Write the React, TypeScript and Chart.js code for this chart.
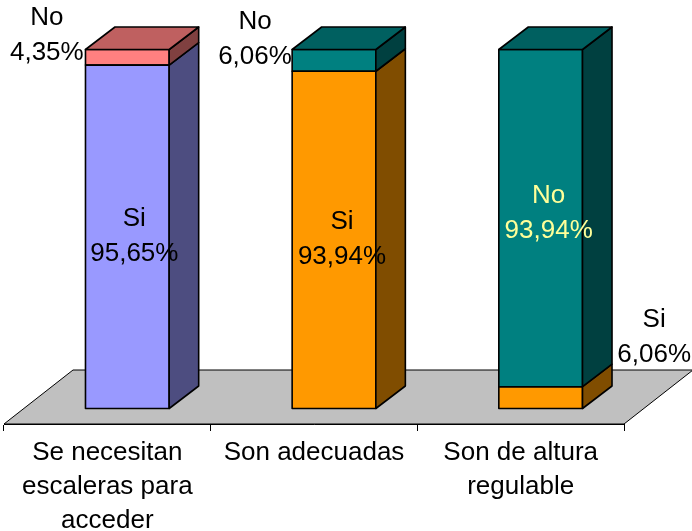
import React, { useEffect, useRef } from "react";
import { Chart, registerables } from "chart.js";

Chart.register(...registerables);

const categories = [
  ["Se necesitan", "escaleras para", "acceder"],
  ["Son adecuadas"],
  ["Son de altura", "regulable"],
];
const siValues = [95.65, 93.94, 6.06];
const noValues = [4.35, 6.06, 93.94];

const siFront = ["#9999FF", "#FF9900", "#FF9900"];
const siSide = ["#4D4D80", "#804D00", "#804D00"];
const noFront = ["#FF8080", "#008080", "#008080"];
const noSide = ["#804040", "#004040", "#004040"];
const noTop = ["#BF6060", "#006060", "#006060"];

const FONT = '"Liberation Sans", Arial, sans-serif';
const FONT_SIZE = 26;
const EDGE = 1.6;

// Oblique projection of the floor and of the bar bodies.
const FLOOR_DX = 69;
const FLOOR_DY = 54;
const BAR_SHIFT_X = 20;
const BAR_DX = 29.5;
const BAR_DY = 22.5;

// Label placement relative to the centre of each bar segment's front face.
const siLabelOffsets = [
  [7, 0],
  [8, 0],
  [113.5, -59.5],
];
const noLabelOffsets = [
  [-80.5, -21.5],
  [-79, -21],
  [8, -4.5],
];

const toPercent = (v: number) => v.toFixed(2).replace(".", ",") + "%";

function face(ctx: CanvasRenderingContext2D, pts: number[][], fill: string | null, lw = EDGE) {
  ctx.beginPath();
  pts.forEach(([x, y], i) => (i ? ctx.lineTo(x, y) : ctx.moveTo(x, y)));
  ctx.closePath();
  if (fill) {
    ctx.fillStyle = fill;
    ctx.fill();
  }
  ctx.lineWidth = lw;
  ctx.strokeStyle = "#000";
  ctx.lineJoin = "round";
  ctx.stroke();
}

const bars3d = {
  id: "bars3d",
  beforeDatasetsDraw(chart: any) {
    const { ctx, chartArea } = chart;
    const { left, right, bottom } = chartArea;
    face(
      ctx,
      [
        [left, bottom],
        [right, bottom],
        [right + FLOOR_DX, bottom - FLOOR_DY],
        [left + FLOOR_DX, bottom - FLOOR_DY],
      ],
      "#C0C0C0",
      1
    );
    ctx.save();
    ctx.translate(BAR_SHIFT_X, 0);
  },
  afterDatasetsDraw(chart: any) {
    const { ctx } = chart;
    const sides = [siSide, noSide];
    [0, 1].forEach((ds) => {
      chart.getDatasetMeta(ds).data.forEach((bar: any, i: number) => {
        const l = bar.x - bar.width / 2;
        const r = bar.x + bar.width / 2;
        // Front outline, centred on the segment edges so neighbours share one line.
        face(
          ctx,
          [
            [l, bar.base],
            [r, bar.base],
            [r, bar.y],
            [l, bar.y],
          ],
          null
        );
        face(
          ctx,
          [
            [r, bar.base],
            [r + BAR_DX, bar.base - BAR_DY],
            [r + BAR_DX, bar.y - BAR_DY],
            [r, bar.y],
          ],
          sides[ds][i]
        );
      });
    });
    chart.getDatasetMeta(1).data.forEach((bar: any, i: number) => {
      const l = bar.x - bar.width / 2;
      const r = bar.x + bar.width / 2;
      face(
        ctx,
        [
          [l, bar.y],
          [l + BAR_DX, bar.y - BAR_DY],
          [r + BAR_DX, bar.y - BAR_DY],
          [r, bar.y],
        ],
        noTop[i]
      );
    });
    ctx.restore();

    // Series name and percentage beside each segment.
    ctx.save();
    ctx.font = `${FONT_SIZE}px ${FONT}`;
    ctx.textAlign = "center";
    ctx.textBaseline = "middle";
    const drawLabels = (ds: number, name: string, values: number[], offs: number[][]) => {
      chart.getDatasetMeta(ds).data.forEach((bar: any, i: number) => {
        const cx = bar.x + BAR_SHIFT_X + offs[i][0];
        const cy = (bar.y + bar.base) / 2 + offs[i][1];
        ctx.fillStyle = ds === 1 && i === 2 ? "#FFFF99" : "#000";
        ctx.fillText(name, cx, cy - 18);
        ctx.fillText(toPercent(values[i]), cx, cy + 17);
      });
    };
    drawLabels(0, "Si", siValues, siLabelOffsets);
    drawLabels(1, "No", noValues, noLabelOffsets);
    ctx.restore();
  },
};

export default function App() {
  const ref = useRef<HTMLCanvasElement>(null);
  useEffect(() => {
    const chart = new Chart(ref.current!, {
      type: "bar",
      data: {
        labels: categories,
        datasets: [
          { label: "Si", data: siValues, backgroundColor: siFront, borderWidth: 0 },
          { label: "No", data: noValues, backgroundColor: noFront, borderWidth: 0 },
        ],
      },
      options: {
        responsive: false,
        animation: false,
        clip: false,
        barPercentage: 1,
        categoryPercentage: 0.405,
        layout: { padding: { left: 4, right: 68, top: 49.5, bottom: 0 } },
        plugins: { legend: { display: false }, tooltip: { enabled: false } },
        scales: {
          x: {
            stacked: true,
            border: { display: true, color: "#000", width: 1 },
            grid: { drawOnChartArea: false, color: "#000", tickLength: 7 },
            ticks: {
              color: "#000",
              font: { family: FONT, size: FONT_SIZE, lineHeight: 1.3 },
              autoSkip: false,
              maxRotation: 0,
              padding: 5,
            },
            afterFit(scale: any) {
              scale.height = 107;
            },
          },
          y: { stacked: true, display: false, min: -4.32, max: 100 },
        },
      } as any,
      plugins: [bars3d],
    });
    return () => chart.destroy();
  }, []);
  return (
    <div style={{ position: "fixed", left: 0, top: 0, width: 692, height: 531, background: "#fff" }}>
      <canvas ref={ref} width={692} height={531} style={{ display: "block" }} />
    </div>
  );
}
